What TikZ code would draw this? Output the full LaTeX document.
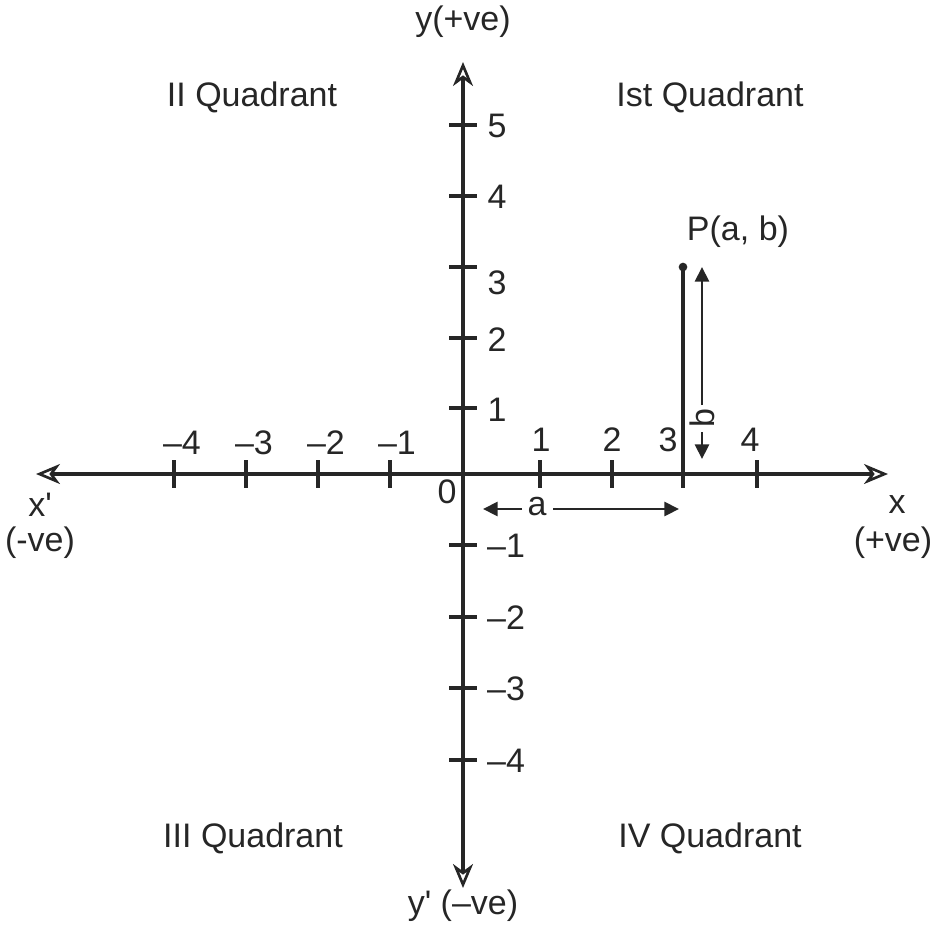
\documentclass[tikz,border=0pt]{standalone}
\usepackage{fontspec}
\setmainfont{Liberation Sans}
\usetikzlibrary{arrows.meta}
\begin{document}
\begin{tikzpicture}[x=0.75pt,y=-0.75pt,
  axis/.style={line width=2.3pt,color=black!85, {Stealth[open,length=18pt,width=15pt,inset=5.5pt,line width=2pt]}-{Stealth[open,length=18pt,width=15pt,inset=5.5pt,line width=2pt]}},
  tick/.style={line width=2.3pt,color=black!85},
  lbl/.style={inner sep=0pt,font=\fontsize{25.5}{30}\selectfont,text=black!85},
  dim/.style={line width=2.2pt,color=black!85,-{Triangle[length=11pt,width=10.5pt]}},
  dot/.style={circle,fill=black!85,inner sep=0pt,minimum size=6.5pt}]
\path[use as bounding box] (0,0) rectangle (932,926);
% axes
\coordinate (xl) at (36,474);
\coordinate (xr) at (888,474);
\coordinate (yt) at (463,62);
\coordinate (yb) at (463,888);
\draw[axis] (xl) -- (xr);
\draw[axis] (yb) -- (yt);
% x ticks
\foreach \px in {174,246,318,390,540,612,757}
  \draw[tick] (\px,460) -- (\px,488);
% y ticks
\foreach \py in {125,196,267,338,408,545,617,688,760}
  \draw[tick] (449,\py) -- (477,\py);
% x labels
\node[lbl] (xm4) at (182,443) {–4};
\node[lbl] (xm3) at (254,443) {–3};
\node[lbl] (xm2) at (326,443) {–2};
\node[lbl] (xm1) at (397,443) {–1};
\node[lbl] (x1) at (541,440) {1};
\node[lbl] (x2) at (612,440) {2};
\node[lbl] (x3) at (668,440) {3};
\node[lbl] (x4) at (750,440) {4};
\node[lbl] (o) at (447,492) {0};
% y labels
\node[lbl] (y5) at (497,126) {5};
\node[lbl] (y4) at (497,197) {4};
\node[lbl] (y3) at (497,283) {3};
\node[lbl] (y2) at (497,340) {2};
\node[lbl] (y1) at (497,410) {1};
\node[lbl] (ym1) at (506,546) {–1};
\node[lbl] (ym2) at (506,618) {–2};
\node[lbl] (ym3) at (506,689) {–3};
\node[lbl] (ym4) at (506,761) {–4};
% axis names
\node[lbl] (ytop) at (463,22) {y(+ve)};
\node[lbl] (ybot) at (463,906) {y\textquotesingle\ (–ve)};
\node[lbl] (xneg) at (40,505) {x\textquotesingle};
\node[lbl] (xnegve) at (40,543) {(-ve)};
\node[lbl] (xpos) at (897,505) {x};
\node[lbl] (xposve) at (893,543) {(+ve)};
% quadrants
\node[lbl] (q2) at (252,97) {II Quadrant};
\node[lbl] (q1) at (710,97) {Ist Quadrant};
\node[lbl] (q3) at (253,838) {III Quadrant};
\node[lbl] (q4) at (710,838) {IV Quadrant};
% point P
\node[dot] (P) at (683,267) {};
\coordinate (Pf) at (683,488);
\draw[tick] (P.center) -- (Pf);
\node[lbl] (Plbl) at (738,232) {P(a, b)};
% b dimension
\coordinate (bs) at (702,405);
\coordinate (bt) at (702,267);
\coordinate (bs2) at (702,432);
\coordinate (bt2) at (702,459);
\draw[dim] (bs) -- (bt);
\draw[dim] (bs2) -- (bt2);
\node[lbl,rotate=90] (blbl) at (702,418) {b};
% a dimension
\coordinate (al) at (483,509);
\coordinate (as) at (522,509);
\coordinate (as2) at (553,509);
\coordinate (ar) at (679,509);
\draw[dim] (as) -- (al);
\draw[dim] (as2) -- (ar);
\node[lbl] (albl) at (537,507) {a};
\end{tikzpicture}
\end{document}
